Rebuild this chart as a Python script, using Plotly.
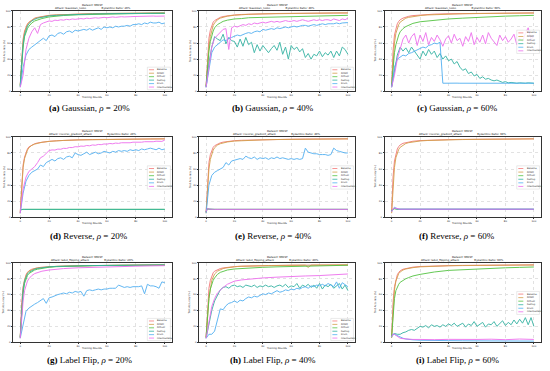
import plotly.graph_objects as go
from plotly.subplots import make_subplots

# ---------------- x grids (training rounds) ----------------
XS = [0, 1, 2, 3, 4, 5, 6, 8, 10, 12, 15, 20, 25, 30, 40, 50, 60, 70, 80, 90, 100]
XD = list(range(0, 101, 2))

SERIES = ["Baseline", "DANO", "FLTrust", "FedAvg", "Krum", "Intermediate"]
COLORS = ["#f47878", "#d4a04c", "#55c443", "#34b3a3", "#52b0f2", "#ee6fee"]

X_TICKS = [0, 20, 40, 60, 80, 100]
Y_TICKS = [0, 20, 40, 60, 80, 100]

# ---------------- (a) Gaussian 20% ----------------
a_baseline = [8, 45, 65, 75, 80, 84, 86, 89, 91, 92, 93, 94.5, 95, 95.5, 96, 96.5, 96.8, 97, 97.2, 97.3, 97.4]
a_dano = [6, 40, 62, 73, 79, 83, 85.5, 88.5, 90.5, 91.5, 92.8, 94.3, 95, 95.5, 96.2, 96.6, 96.9, 97.1, 97.3, 97.4, 97.5]
a_fltrust = [7, 35, 55, 68, 74, 78, 81, 85, 87.5, 89, 90.5, 92.5, 93.5, 94.3, 95.2, 95.8, 96.2, 96.5, 96.7, 96.9, 97]
a_fedavg = [6, 38, 58, 70, 77, 81, 84, 87.5, 89.5, 91, 92, 93.8, 94.5, 95, 95.8, 96.2, 96.5, 96.8, 97, 97.1, 97.2]
a_krum = [5, 30, 45, 52, 55, 58, 60, 64, 66, 63, 69, 70, 68, 72, 73, 71, 74, 75, 73, 76, 75, 76, 77, 76, 78, 76,
          78, 79, 77, 80, 79, 80, 79, 81, 80, 81, 81, 82, 81, 83, 83, 84, 83, 85, 84, 86, 85, 85, 86, 84, 85]
a_inter = [5, 20, 52, 66, 74, 79, 72, 83, 85, 86, 87.5, 87, 88.5, 88, 89, 88.5, 89.5, 89, 90, 89.5, 90, 90.5, 90, 91,
           90.5, 91, 91.5, 91, 91.5, 92, 91.5, 92, 92.5, 92, 92.5, 92.8, 92.5, 93, 92.8, 93, 93.2, 93, 93.3, 93.5,
           93.2, 93.5, 93.6, 93.4, 93.6, 93.8, 93.6]

# ---------------- (b) Gaussian 40% ----------------
b_baseline = [7, 45, 66, 76, 82, 86, 88, 90.5, 92, 93, 94, 95, 95.6, 96, 96.5, 96.8, 97, 97.2, 97.3, 97.4, 97.5]
b_dano = [6, 35, 55, 68, 76, 82, 85, 89, 91, 92.3, 93.5, 94.6, 95.3, 95.8, 96.3, 96.7, 96.9, 97.1, 97.3, 97.4, 97.5]
b_fltrust = [6, 30, 50, 62, 70, 75, 79, 83, 85, 87, 88.5, 90, 90.5, 91.5, 92, 92.5, 93, 93.5, 94, 94.2, 94.5]
b_fedavg = [5, 35, 55, 68, 65, 63, 71, 59, 67, 63, 62, 55, 65, 56, 67, 58, 61, 48, 58, 50, 57, 52, 48, 53, 57, 51,
            61, 46, 55, 40, 57, 52, 55, 49, 53, 42, 47, 40, 46, 44, 50, 43, 48, 45, 50, 42, 50, 44, 55, 52, 46]
b_krum = [5, 28, 48, 55, 58, 61, 64, 63, 66, 67, 69, 70, 69, 71, 72, 73, 72, 74, 75, 74, 77, 76, 77, 78, 77, 79,
          78, 79, 80, 79, 80, 81, 80, 81, 82, 82, 81, 82, 83, 82, 83, 84, 83, 84, 84, 84, 85, 84, 85, 85, 85.5]
b_inter = [5, 30, 55, 66, 70, 74, 77, 78, 52, 79, 81, 80, 82, 83, 82, 84, 83, 85, 84, 85, 86, 85, 86, 87, 86, 87,
           86, 87, 88, 87, 87, 88, 87, 88, 89, 88, 87, 88, 89, 88, 89, 88, 89, 89, 88, 90, 89, 88, 90, 89, 91]

# ---------------- (c) Gaussian 60% ----------------
c_baseline = [7, 50, 70, 79, 84, 87, 89, 91, 92.5, 93.3, 94.2, 95, 95.6, 96, 96.5, 96.8, 97, 97.2, 97.4, 97.5, 97.6]
c_dano = [6, 40, 60, 72, 79, 83, 86, 89, 91, 92, 93, 94.2, 95, 95.4, 96, 96.4, 96.7, 96.9, 97.1, 97.2, 97.3]
c_fltrust = [6, 30, 48, 58, 65, 70, 74, 78, 80.5, 82.5, 84.5, 86.5, 87.5, 88.5, 90, 91, 92, 92.8, 93.5, 94, 94.5]
c_fedavg = [5, 25, 45, 55, 50, 54, 48, 55, 50, 46, 40, 50, 44, 52, 46, 50, 42, 47, 40, 44, 38, 40, 34, 37, 30, 26,
            28, 22, 24, 19, 21, 16, 18, 15, 16, 14, 13, 14, 12, 11, 12, 10.5, 11, 10.5, 10, 10.5, 10, 10, 10.5, 10, 10]
c_krum = [5, 30, 40, 42, 45, 44, 47, 48, 50, 52, 53, 55, 54, 57, 58, 60, 59, 61, 10, 10.2, 10, 9.9, 10, 10.1, 10,
          10, 9.9, 10, 10.1, 10, 10, 9.9, 10, 10, 10.1, 10, 10, 9.9, 10, 10, 10.1, 10, 10, 9.9, 10, 10, 10.1, 10,
          10, 9.9, 10]
c_inter = [5, 20, 40, 52, 65, 70, 60, 68, 72, 57, 70, 62, 73, 58, 67, 62, 70, 64, 56, 65, 69, 60, 71, 63, 66, 56,
           68, 62, 73, 58, 67, 61, 70, 59, 73, 66, 62, 57, 70, 63, 68, 61, 65, 71, 58, 66, 62, 72, 79, 64, 70]

# ---------------- (d) Reverse 20% ----------------
d_baseline = [6, 45, 65, 75, 81, 85, 87.5, 90, 91.5, 92.5, 93.5, 94.5, 95.2, 95.7, 96.3, 96.7, 97, 97.2, 97.4, 97.5, 97.6]
d_dano = [5, 40, 62, 73, 79, 83.5, 86.5, 89.5, 91, 92.2, 93.3, 94.4, 95.1, 95.6, 96.2, 96.6, 96.9, 97.1, 97.3, 97.4, 97.5]
d_fltrust = [9, 9.8, 9.8, 9.8, 9.8, 9.8, 9.8, 9.8, 9.8, 9.8, 9.8, 9.8, 9.8, 9.8, 9.8, 9.8, 9.8, 9.8, 9.8, 9.8, 9.8]
d_fedavg = [8, 9.8, 9.8, 9.8, 9.8, 9.8, 9.8, 9.8, 9.8, 9.8, 9.8, 9.8, 9.8, 9.8, 9.8, 9.8, 9.8, 9.8, 9.8, 9.8, 9.8]
d_krum = [5, 30, 45, 52, 56, 58, 60, 65, 63, 68, 70, 72, 70, 73, 74, 72, 75, 76, 74, 80, 78, 77, 79, 81, 78, 80,
          81, 79, 80, 82, 81, 80, 82, 81, 83, 82, 83, 82, 84, 83, 84, 83, 85, 84, 85, 86, 85, 84, 86, 84, 85]
d_inter = [5, 35, 50, 57, 60, 63, 68, 74, 76, 80, 83, 83.8, 83.6, 84.8, 84.6, 85.8, 85.6, 86.8, 86.7, 87.8, 87.6,
           88.6, 88.3, 89.3, 88.9, 90, 89.6, 90.6, 90.3, 91.2, 91, 91.8, 91.4, 92.3, 91.9, 92.7, 92.4, 93, 92.7,
           93.4, 93.1, 93.7, 93.4, 94, 93.7, 94.3, 94, 94.6, 94.3, 94.4, 96]

# ---------------- (e) Reverse 40% ----------------
e_baseline = [6, 48, 68, 78, 84, 87, 89, 91.3, 92.6, 93.5, 94.4, 95.3, 95.8, 96.1, 96.6, 96.9, 97.1, 97.3, 97.4, 97.5, 97.6]
e_dano = [5, 38, 60, 72, 79, 83.5, 86.5, 89.8, 91.5, 92.6, 93.7, 94.8, 95.4, 95.8, 96.3, 96.7, 96.9, 97.1, 97.3, 97.4, 97.5]
e_fltrust = [7, 10.5, 10, 9.8, 9.8, 9.8, 9.8, 9.8, 9.8, 9.8, 9.8, 9.8, 9.8, 9.8, 9.8, 9.8, 9.8, 9.8, 9.8, 9.8, 9.8]
e_fedavg = [7, 10.8, 10.1, 9.8, 9.8, 9.8, 9.8, 9.8, 9.8, 9.8, 9.8, 9.8, 9.8, 9.8, 9.8, 9.8, 9.8, 9.8, 9.8, 9.8, 9.8]
e_krum = [5, 40, 52, 56, 58, 60, 62, 68, 65, 70, 71, 72, 73, 72, 76, 74, 73, 75, 72, 74, 73, 74, 72, 74, 73, 75,
          73, 74, 73, 72, 73, 72, 73, 72, 73, 86, 81, 80, 79, 79, 78, 78, 78, 77, 78, 86, 83, 82, 81, 80, 80]
e_inter = [7, 11, 10.2, 9.8, 9.8, 9.8, 9.8, 9.8, 9.8, 9.8, 9.8, 9.8, 9.8, 9.8, 9.8, 9.8, 9.8, 9.8, 9.8, 9.8, 9.8]

# ---------------- (f) Reverse 60% ----------------
f_baseline = [6, 50, 70, 80, 85, 88, 90, 92, 93, 93.8, 94.6, 95.4, 95.8, 96.1, 96.6, 96.9, 97.1, 97.3, 97.4, 97.5, 97.6]
f_dano = [5, 40, 62, 74, 80, 84.5, 87, 90, 91.8, 92.8, 93.8, 94.9, 95.5, 95.9, 96.4, 96.7, 96.9, 97.1, 97.3, 97.4, 97.5]
f_fltrust = [8, 10, 10.5, 10, 9.9, 9.9, 9.9, 9.9, 9.9, 9.9, 9.9, 9.9, 9.9, 9.9, 9.9, 9.9, 9.9, 9.9, 9.9, 9.9, 9.9]
f_fedavg = [8, 10.5, 11, 10.2, 9.9, 9.9, 9.9, 9.9, 9.9, 9.9, 9.9, 9.9, 9.9, 9.9, 9.9, 9.9, 9.9, 9.9, 9.9, 9.9, 9.9]
f_krum = [7, 10, 12.5, 11.5, 10.5, 10, 10, 10, 10, 10, 10, 10, 10, 10, 10, 10, 10, 10, 10, 10, 10]
f_inter = [7, 10.5, 11.5, 11, 10.2, 10, 10, 10, 10, 10, 10, 10, 10, 10, 10, 10, 10, 10, 10, 10, 10]

# ---------------- (g) Label flip 20% ----------------
g_baseline = [6, 50, 70, 80, 85, 88, 90, 92, 93, 93.8, 94.5, 95.3, 95.7, 96, 96.4, 96.7, 96.9, 97.1, 97.2, 97.3, 97.4]
g_dano = [6, 45, 68, 79, 84, 87.5, 89.5, 91.5, 92.7, 93.5, 94.3, 95.1, 95.6, 95.9, 96.3, 96.6, 96.8, 97, 97.1, 97.2, 97.3]
g_fltrust = [6, 40, 62, 74, 80, 84, 86.5, 89, 91, 92, 93.2, 94.5, 95.2, 95.6, 96.1, 96.5, 96.7, 96.9, 97.1, 97.2, 97.3]
g_fedavg = [6, 42, 65, 77, 82, 86, 88, 90.5, 92, 93, 93.9, 95, 95.5, 95.9, 96.3, 96.6, 96.8, 97, 97.1, 97.3, 97.4]
g_krum = [5, 24, 39, 43, 46, 48, 50, 52, 55, 49, 56, 57, 59, 60, 61, 62, 61, 63, 62, 64, 63, 64, 58, 65, 66, 65,
          66, 67, 66, 67, 67, 68, 68, 68, 72, 70, 69, 70, 69, 70, 70, 70, 71, 61, 73, 71, 71, 70, 68, 76, 75]
g_inter = [5, 30, 52, 65, 72, 77, 80, 84, 86.5, 88, 89.5, 91, 92, 92.8, 93.8, 94.5, 95, 95.4, 95.8, 96.2, 96.5]

# ---------------- (h) Label flip 40% ----------------
h_baseline = [6, 45, 68, 78, 84, 87.5, 89.5, 91.5, 92.8, 93.6, 94.4, 95.3, 95.8, 96.1, 96.5, 96.8, 97, 97.1, 97.3, 97.4, 97.5]
h_dano = [6, 55, 78, 86, 89.5, 91.5, 92.8, 93.6, 94.2, 94.7, 95.1, 95.4, 95.6, 95.8, 96, 96.1, 96.2, 96.3, 96.4,
          96.5, 96.6, 96.6, 96.7, 96.7, 96.8, 96.8, 96.9, 96.9, 97, 97, 97, 97, 97.1, 97.1, 97.1, 97.1, 94.3, 97.1,
          97.2, 97.2, 97.2, 97.2, 97.3, 97.3, 97.3, 97.3, 97.3, 97.4, 97.4, 97.4, 97.4]
h_fltrust = [6, 35, 55, 67, 74, 78, 81, 85.5, 88, 89.5, 91, 92.3, 93, 93.6, 94.4, 95, 95.5, 96, 96.4, 96.7, 97]
h_fedavg = [5, 25, 40, 52, 60, 66, 69, 70, 68, 71, 72, 70, 71, 69, 72, 71, 70, 72, 69, 71, 70, 72, 70, 71, 69, 71,
            72, 70, 73, 69, 71, 70, 74, 68, 72, 70, 73, 69, 72, 68, 74, 67, 72, 70, 73, 68, 71, 74, 67, 72, 65]
h_krum = [5, 10, 10, 14, 28, 42, 41, 46, 49, 50, 52, 50, 53, 52, 55, 57, 56, 58, 57, 59, 61, 60, 62, 61, 63, 65,
          63, 64, 66, 65, 67, 66, 68, 67, 69, 70, 68, 71, 70, 72, 71, 73, 71, 74, 72, 70, 76, 68, 75, 72, 70]
h_inter = [5, 15, 30, 40, 45, 50, 55, 62, 66, 69, 73, 77, 78.5, 79.5, 81, 82, 83, 83.5, 84, 85, 86]

# ---------------- (i) Label flip 60% ----------------
i_baseline = [6, 50, 70, 80, 85, 88, 90, 92, 93, 93.8, 94.6, 95.4, 95.8, 96.1, 96.5, 96.8, 97, 97.1, 97.3, 97.4, 97.5]
i_dano = [6, 45, 66, 77, 83, 86.5, 88.5, 91, 92.3, 93.2, 94, 95, 95.5, 95.9, 96.3, 96.6, 96.8, 97, 97.1, 97.2, 97.3]
i_fltrust = [6, 35, 55, 65, 70, 73, 75.5, 78, 80, 81.5, 83.5, 85.5, 87, 88.5, 90.5, 91.5, 92.5, 93.2, 93.8, 94.3, 94.8]
i_fedavg = [7, 11, 10, 10, 12, 13, 15, 16, 15, 18, 20, 19, 21, 18, 22, 20, 21, 19, 22, 20, 23, 21, 24, 20, 22, 24,
            19, 23, 21, 26, 20, 22, 25, 19, 23, 22, 26, 20, 24, 27, 21, 25, 22, 28, 23, 29, 24, 31, 22, 31, 20]
i_krum = [7, 10.5, 10, 9, 8, 7, 6, 5, 4, 3.5, 3, 2.5, 2.2, 2, 2, 1.8, 1.8, 1.6, 1.5, 1.5, 1.4]
i_inter = [7, 10, 10, 9, 7, 6, 5, 4.5, 4, 3.8, 3.5, 3.5, 3.8, 3.2, 3.6, 3.3, 3.5, 3.8, 3.2, 4, 3.5]

# ---------------- panel definitions ----------------
panels = [
    dict(attack="Gaussian_noise", ratio="20%", tag="(a)", cap="Gaussian", leg="low",
         data=[(XS, a_baseline), (XS, a_dano), (XS, a_fltrust), (XS, a_fedavg), (XD, a_krum), (XD, a_inter)]),
    dict(attack="Gaussian_noise", ratio="40%", tag="(b)", cap="Gaussian", leg="low",
         data=[(XS, b_baseline), (XS, b_dano), (XS, b_fltrust), (XD, b_fedavg), (XD, b_krum), (XD, b_inter)]),
    dict(attack="Gaussian_noise", ratio="60%", tag="(c)", cap="Gaussian", leg="upmid",
         data=[(XS, c_baseline), (XS, c_dano), (XS, c_fltrust), (XD, c_fedavg), (XD, c_krum), (XD, c_inter)]),
    dict(attack="reverse_gradient_attack", ratio="20%", tag="(d)", cap="Reverse", leg="mid",
         data=[(XS, d_baseline), (XS, d_dano), (XS, d_fltrust), (XS, d_fedavg), (XD, d_krum), (XD, d_inter)]),
    dict(attack="reverse_gradient_attack", ratio="40%", tag="(e)", cap="Reverse", leg="mid",
         data=[(XS, e_baseline), (XS, e_dano), (XS, e_fltrust), (XS, e_fedavg), (XD, e_krum), (XS, e_inter)]),
    dict(attack="reverse_gradient_attack", ratio="60%", tag="(f)", cap="Reverse", leg="mid",
         data=[(XS, f_baseline), (XS, f_dano), (XS, f_fltrust), (XS, f_fedavg), (XS, f_krum), (XS, f_inter)]),
    dict(attack="label_flipping_attack", ratio="20%", tag="(g)", cap="Label Flip", leg="low",
         data=[(XS, g_baseline), (XS, g_dano), (XS, g_fltrust), (XS, g_fedavg), (XD, g_krum), (XS, g_inter)]),
    dict(attack="label_flipping_attack", ratio="40%", tag="(h)", cap="Label Flip", leg="low",
         data=[(XS, h_baseline), (XD, h_dano), (XS, h_fltrust), (XD, h_fedavg), (XD, h_krum), (XS, h_inter)]),
    dict(attack="label_flipping_attack", ratio="60%", tag="(i)", cap="Label Flip", leg="mid",
         data=[(XS, i_baseline), (XS, i_dano), (XS, i_fltrust), (XD, i_fedavg), (XS, i_krum), (XS, i_inter)]),
]

W, H = 550, 371
COL_PX = [(13, 172), (199, 355), (384.5, 541)]
ROW_PX = [(10, 91), (137, 218), (264, 344)]
CAP_X = [89, 273, 457]
CAP_Y = [108, 237, 362]
LEG_Y = {"low": (0.02, 0.30), "mid": (0.35, 0.64), "upmid": (0.47, 0.76)}

fig = make_subplots(rows=3, cols=3)

TXT = "DejaVu Sans"
SMALL = dict(size=2.5, family=TXT, color="#222")
for k, p in enumerate(panels):
    r, c = k // 3, k % 3
    for (xs, ys), name, col in zip(p["data"], SERIES, COLORS):
        fig.add_trace(go.Scatter(x=xs, y=ys, mode="lines", name=name, showlegend=False,
                                 line=dict(color=col, width=1.0), opacity=0.9),
                      row=r + 1, col=c + 1)
    n = k + 1
    sfx = "" if n == 1 else str(n)
    x0, x1 = COL_PX[c]
    y0, y1 = ROW_PX[r]
    common = dict(tickfont=SMALL, ticks="outside", ticklen=1.2, tickwidth=0.5, tickcolor="#333",
                  showline=True, linecolor="#333", linewidth=0.6, mirror=True, showgrid=True,
                  gridcolor="#e2e2e2", griddash="dot", gridwidth=0.5, zeroline=False)
    fig.layout["xaxis" + sfx].update(domain=[x0 / W, x1 / W], range=[-5, 105], tickvals=X_TICKS, **common)
    fig.layout["yaxis" + sfx].update(domain=[1 - y1 / H, 1 - y0 / H], range=[0, 100], tickvals=Y_TICKS, **common)

    cx = (x0 + x1) / 2 / W
    # axis titles
    fig.add_annotation(xref="paper", yref="paper", x=cx, y=1 - (y1 + 6) / H, text="Training Rounds",
                       showarrow=False, xanchor="center", yanchor="middle", font=SMALL)
    fig.add_annotation(xref="paper", yref="paper", x=(x0 - 9) / W, y=1 - (y0 + y1) / 2 / H,
                       text="Test Accuracy (%)", textangle=-90,
                       showarrow=False, xanchor="center", yanchor="middle", font=SMALL)
    # subplot titles
    fig.add_annotation(xref="paper", yref="paper", x=cx, y=1 - (y0 - 6.2) / H, text="Dataset: MNIST",
                       showarrow=False, xanchor="center", yanchor="middle",
                       font=dict(size=2.7, family=TXT, color="#111"))
    fig.add_annotation(xref="paper", yref="paper", x=cx, y=1 - (y0 - 2.7) / H,
                       text="Attack: " + p["attack"] + "\u00a0" * 18 + "Byzantine Ratio: " + p["ratio"],
                       showarrow=False, xanchor="center", yanchor="middle",
                       font=dict(size=2.7, family=TXT, color="#111"))
    # caption
    fig.add_annotation(xref="paper", yref="paper", x=CAP_X[c] / W, y=1 - CAP_Y[r] / H,
                       text="<b>" + p["tag"] + "</b> " + p["cap"] + ", <i>ρ</i> = " + p["ratio"],
                       showarrow=False, xanchor="center", yanchor="middle",
                       font=dict(size=9, family="Liberation Serif", color="#000"))

    # legend box
    xr = "x" + sfx + " domain"
    yr = "y" + sfx + " domain"
    lx0, lx1 = 0.845, 0.99
    ly0, ly1 = LEG_Y[p["leg"]]
    fig.add_shape(type="rect", xref=xr, yref=yr, x0=lx0, x1=lx1, y0=ly0, y1=ly1,
                  line=dict(color="#d4d4d4", width=0.5), fillcolor="rgba(255,255,255,0.85)", layer="above")
    hgt = ly1 - ly0
    for i, (name, col) in enumerate(zip(SERIES, COLORS)):
        yy = ly1 - hgt * (i + 0.75) / 6.5
        fig.add_shape(type="line", xref=xr, yref=yr, x0=lx0 + 0.01, x1=lx0 + 0.042, y0=yy, y1=yy,
                      line=dict(color=col, width=0.8), layer="above")
        fig.add_annotation(xref=xr, yref=yr, x=lx0 + 0.05, y=yy, text=name, showarrow=False,
                           xanchor="left", yanchor="middle", font=dict(size=2.3, family=TXT, color="#333"))

fig.update_layout(width=W, height=H, margin=dict(l=0, r=0, t=0, b=0),
                  paper_bgcolor="white", plot_bgcolor="white", showlegend=False)

fig.write_html("out.html", config={"displayModeBar": False},
               post_script="document.body.style.margin='0';document.body.style.padding='0';"
                           "document.body.style.overflow='hidden';")
